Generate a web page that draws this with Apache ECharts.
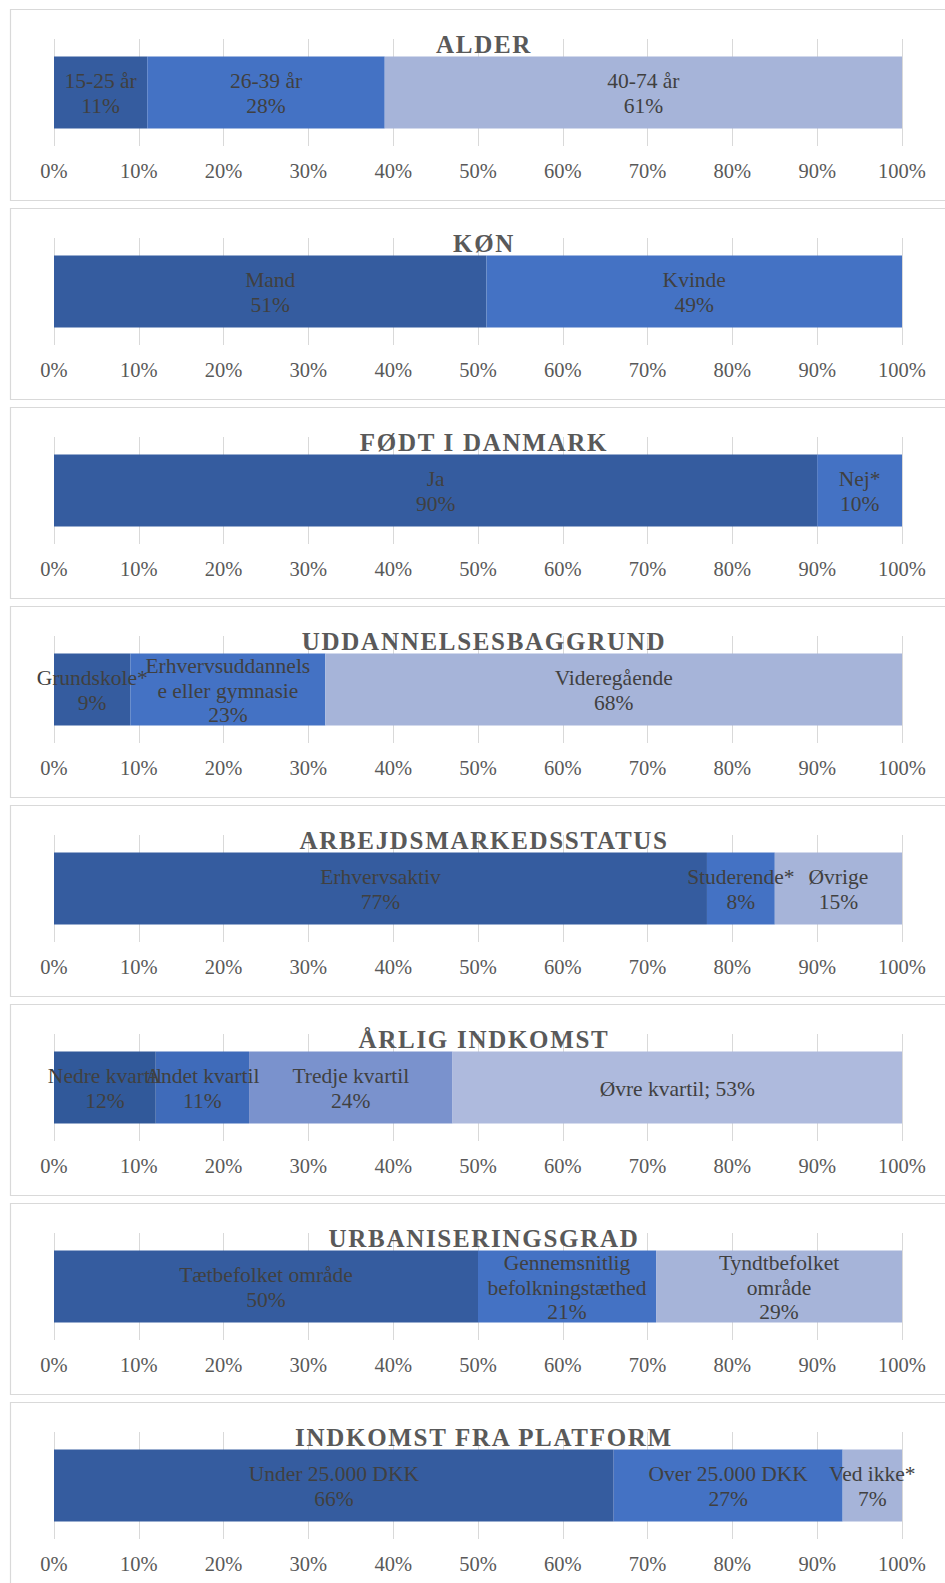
<!DOCTYPE html>
<html>
<head>
<meta charset="utf-8">
<script src="https://cdn.jsdelivr.net/npm/echarts@6/dist/echarts.min.js"></script>
<style>
html,body{margin:0;padding:0;background:#fff;}
#c{width:945px;height:1583px;}
</style>
</head>
<body>
<div id="c"></div>
<script>
// ---- data ----
const titles = ["ALDER","KØN","FØDT I DANMARK","UDDANNELSESBAGGRUND","ARBEJDSMARKEDSSTATUS","ÅRLIG INDKOMST","URBANISERINGSGRAD","INDKOMST FRA PLATFORM"];

const alderLabels = ["15-25 år","26-39 år","40-74 år"];
const alderValues = [11, 28, 61];

const koenLabels = ["Mand","Kvinde"];
const koenValues = [51, 49];

const foedtLabels = ["Ja","Nej*"];
const foedtValues = [90, 10];

const uddLabels = ["Grundskole*","Erhvervsuddannels\ne eller gymnasie","Videregående"];
const uddValues = [9, 23, 68];

const arbLabels = ["Erhvervsaktiv","Studerende*","Øvrige"];
const arbValues = [77, 8, 15];

const indkLabels = ["Nedre kvartil","Andet kvartil","Tredje kvartil","Øvre kvartil"];
const indkValues = [12, 11, 24, 53];
const indkSeps = ["\n","\n","\n","; "];

const urbLabels = ["Tætbefolket område","Gennemsnitlig\nbefolkningstæthed","Tyndtbefolket\nområde"];
const urbValues = [50, 21, 29];

const platLabels = ["Under 25.000 DKK","Over 25.000 DKK","Ved ikke*"];
const platValues = [66, 27, 7];

const tickValues = [0,10,20,30,40,50,60,70,80,90,100];

// ---- styles ----
const colors3 = ["#355C9F","#4472C4","#A6B4D9"];
const colors4 = ["#31599A","#3F6BBA","#7A92CD","#AEBADD"];

const panels = [
  {labels: alderLabels, values: alderValues, colors: colors3},
  {labels: koenLabels, values: koenValues, colors: colors3},
  {labels: foedtLabels, values: foedtValues, colors: colors3},
  {labels: uddLabels, values: uddValues, colors: colors3},
  {labels: arbLabels, values: arbValues, colors: colors3},
  {labels: indkLabels, values: indkValues, colors: colors4, seps: indkSeps},
  {labels: urbLabels, values: urbValues, colors: colors3},
  {labels: platLabels, values: platValues, colors: colors3}
];

const FONT = "'Liberation Serif','Times New Roman',serif";
const PANEL_TOP0 = 9, PANEL_STEP = 199, PANEL_H = 191;

const title = [], grid = [], xAxis = [], yAxis = [], series = [], graphic = [];

panels.forEach((p, i) => {
  const top = PANEL_TOP0 + i * PANEL_STEP;
  graphic.push({
    type: 'rect', silent: true,
    shape: {x: 10.5, y: top + 0.5, width: 960, height: PANEL_H},
    style: {fill: 'none', stroke: '#d9d9d9', lineWidth: 1.2}
  });
  title.push({
    text: titles[i], left: 484, top: top + 23, textAlign: 'center', padding: 0,
    textStyle: {fontFamily: FONT, fontWeight: 'bold', fontSize: 25, color: '#595959'}
  });
  grid.push({left: 54, right: 43, top: top + 30, height: 107});
  xAxis.push({
    type: 'value', gridIndex: i, min: 0, max: 100, interval: 10,
    axisLine: {show: false}, axisTick: {show: false},
    splitLine: {show: true, lineStyle: {color: '#d9d9d9', width: 1}},
    axisLabel: {formatter: v => tickValues.includes(v) ? v + '%' : '', margin: 14,
      fontFamily: FONT, fontSize: 20.5, color: '#595959'}
  });
  yAxis.push({type: 'category', gridIndex: i, data: [titles[i]], show: false});
  p.values.forEach((v, j) => {
    const sep = p.seps ? p.seps[j] : "\n";
    series.push({
      type: 'bar', name: p.labels[j], stack: 's' + i,
      xAxisIndex: i, yAxisIndex: i, barWidth: 72,
      data: [v],
      itemStyle: {color: p.colors[j]},
      label: {
        show: true, position: 'inside', offset: [0, 1],
        formatter: () => p.labels[j] + sep + v + '%',
        fontFamily: FONT, fontSize: 21.5, lineHeight: 24.5, color: '#404040',
        align: 'center', verticalAlign: 'middle'
      },
      emphasis: {disabled: true}, animation: false
    });
  });
});

const chart = echarts.init(document.getElementById('c'), null, {renderer: 'svg'});
chart.setOption({animation: false, title, grid, xAxis, yAxis, series, graphic});

// Excel-style character spacing on the panel titles
function spaceTitles() {
  document.querySelectorAll('#c svg text').forEach(t => {
    if (titles.includes(t.textContent)) t.setAttribute('letter-spacing', '1.7px');
  });
}
spaceTitles();
chart.on('finished', spaceTitles);
setTimeout(spaceTitles, 50);
</script>
</body>
</html>
